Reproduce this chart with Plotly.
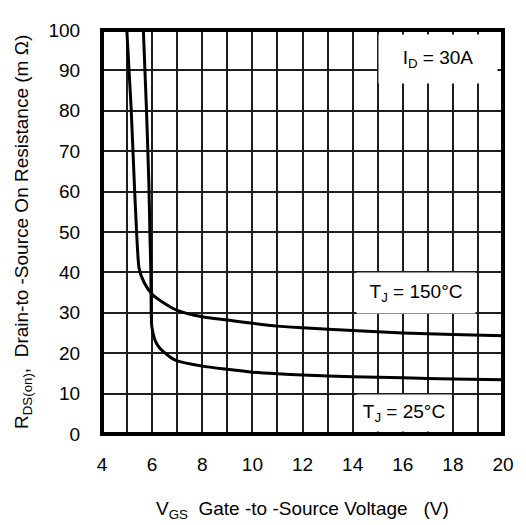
import plotly.graph_objects as go

# Data
vgs_150 = [4.99, 5.16, 5.29, 5.38, 5.48, 5.68, 6.0, 6.5, 7.0, 8.0, 9.0, 10.0, 11.0, 12.0, 14.0, 16.0, 18.0, 20.0]
rds_150 = [100, 81, 62, 50, 41, 37.5, 34.6, 32.3, 30.6, 29.0, 28.2, 27.4, 26.7, 26.3, 25.6, 25.0, 24.6, 24.3]

vgs_25 = [5.65, 5.77, 5.87, 5.91, 5.95, 5.98, 6.05, 6.13, 6.3, 6.52, 6.75, 7.0, 8.0, 9.0, 10.0, 11.0, 12.0, 14.0, 16.0, 18.0, 20.0]
rds_25 = [100, 81, 62, 50, 40, 27.0, 24.6, 23.0, 21.3, 20.0, 18.9, 18.1, 16.8, 16.0, 15.3, 14.9, 14.6, 14.2, 13.9, 13.6, 13.4]

x_ticks = [4, 6, 8, 10, 12, 14, 16, 18, 20]
y_ticks = [0, 10, 20, 30, 40, 50, 60, 70, 80, 90, 100]

FONT = "Liberation Sans, Arial, sans-serif"
GRID = "#1e1e1e"
FS = 19

fig = go.Figure()
for xs, ys in [(vgs_150, rds_150), (vgs_25, rds_25)]:
    fig.add_trace(go.Scatter(x=xs, y=ys, mode="lines",
                             line=dict(color="black", width=3, shape="spline", smoothing=0.6),
                             showlegend=False, hoverinfo="skip"))

# page has an 8px body margin, so the figure is sized 8px smaller each way
fig.update_layout(
    width=518, height=517,
    margin=dict(l=94, r=12, t=14, b=91),
    paper_bgcolor="white", plot_bgcolor="white",
    font=dict(family=FONT, size=FS, color="black"),
    xaxis=dict(range=[4, 20], tickvals=x_ticks, ticktext=[str(v) for v in x_ticks],
               showgrid=True, gridcolor=GRID, gridwidth=2,
               minor=dict(dtick=1, tick0=4, showgrid=True, gridcolor=GRID, gridwidth=2),
               ticks="outside", ticklen=13, tickcolor="rgba(0,0,0,0)",
               zeroline=False, showline=False, fixedrange=True),
    yaxis=dict(range=[0, 100], tickvals=y_ticks, ticktext=[str(v) for v in y_ticks],
               showgrid=True, gridcolor=GRID, gridwidth=2,
               ticks="outside", ticklen=17, tickcolor="rgba(0,0,0,0)",
               zeroline=False, showline=False, fixedrange=True),
)

# plot frame
fig.add_shape(type="rect", xref="paper", yref="paper", x0=0, x1=1, y0=0, y1=1,
              line=dict(color="black", width=4), layer="above")

# in-plot labels
fig.add_annotation(x=17.42, y=92.9, text="I<sub>D</sub> = 30A", showarrow=False,
                   bgcolor="white", width=118, height=48, borderpad=0,
                   font=dict(size=FS, family=FONT))
fig.add_annotation(x=16.53, y=34.8, text="T<sub>J</sub> = 150°C", showarrow=False,
                   bgcolor="white", width=118, height=40, borderpad=0,
                   font=dict(size=FS, family=FONT))
fig.add_annotation(x=16.03, y=5.1, text="T<sub>J</sub> = 25°C", showarrow=False,
                   bgcolor="white", width=94, height=36, borderpad=0,
                   font=dict(size=FS, family=FONT))

# axis titles
fig.add_annotation(xref="paper", yref="paper", x=0.5, y=-0.187, yanchor="middle",
                   text="V<sub>GS</sub>  Gate -to -Source Voltage   (V)", showarrow=False,
                   font=dict(size=FS, family=FONT))
fig.add_annotation(xref="paper", yref="paper", x=-0.197, y=0.5, xanchor="center", yanchor="middle",
                   textangle=-90,
                   text="R<sub>DS(on)</sub>,  Drain-to -Source On Resistance (m Ω)", showarrow=False,
                   font=dict(size=FS, family=FONT))

fig.write_html("out.html")
